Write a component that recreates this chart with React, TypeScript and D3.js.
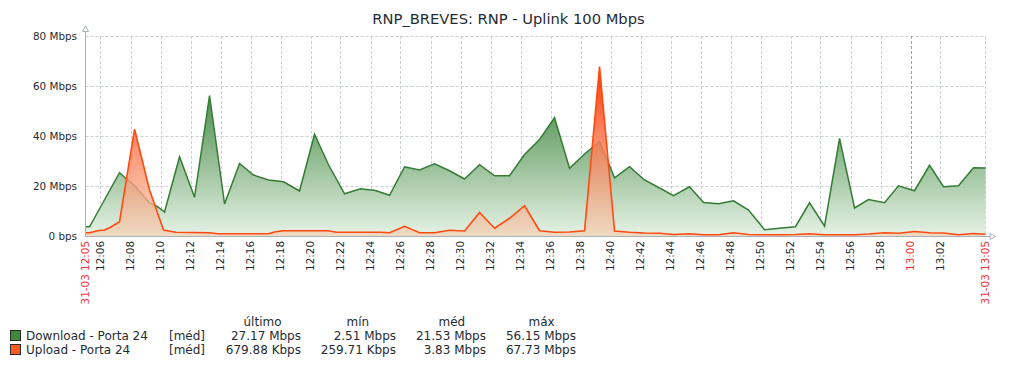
import React from "react";
import * as d3 from "d3";

// ---- data (minutes after 12:05, Mbps) ----
const downT = [0, 0.27, 1.27, 2.27, 2.73, 3.27, 4.27, 4.8, 5.27, 6.27, 7.27, 8.27, 9.27, 10.27, 11.2, 12.2, 13.2, 14.27, 15.27, 16.2, 17.27, 18.33, 19.33, 20.27, 21.27, 22.27, 23.27, 24.27, 25.27, 26.27, 27.27, 28.27, 29.27, 30.27, 31.27, 32.27, 33.27, 34.27, 35.27, 36.27, 37.27, 38.27, 39.2, 40.27, 41.2, 42.2, 43.2, 44.2, 45.27, 46.27, 47.33, 48.27, 49.27, 50.27, 51.27, 52.2, 53.27, 54.2, 55.27, 56.27, 57.2, 58.2, 59.2, 60];
const downV = [3.7, 3.7, 14.5, 25.3, 22.8, 20.2, 13.2, 11.7, 9.6, 31.7, 15.5, 56.15, 12.8, 29, 24.4, 22.4, 21.7, 18, 40.7, 28.5, 16.9, 18.9, 18.2, 16.3, 27.7, 26.4, 28.9, 26.1, 22.8, 28.5, 24.1, 24.1, 32.6, 38.6, 47.3, 27.1, 32.8, 37.8, 23.3, 27.7, 22.4, 19.2, 16.1, 19.7, 13.4, 12.9, 14.1, 10.4, 2.51, 3.1, 3.7, 13.3, 3.9, 39, 11.2, 14.6, 13.3, 20.1, 18.1, 28.3, 19.7, 20.1, 27.3, 27.17];

const upT = [0, 0.27, 0.8, 1.27, 1.67, 2.27, 3.27, 4.27, 4.8, 5.2, 6, 8.27, 8.8, 12.2, 12.67, 13.2, 15.27, 16.2, 16.73, 19.67, 20.27, 21.27, 22.27, 23.27, 24.27, 25.27, 26.27, 27.27, 28.27, 29.27, 30.27, 31.27, 32.27, 33.27, 34.27, 35.27, 36.27, 37.27, 38.27, 39.2, 40.27, 41.2, 42.2, 43.2, 44.2, 45.27, 46.27, 47.33, 48.27, 49.27, 50.27, 51.27, 52.2, 53.27, 54.2, 55.27, 56.27, 57.2, 58.2, 59.2, 60];
const upV = [1.3, 1.3, 2.1, 2.4, 3.5, 5.7, 42.7, 18.4, 9.3, 2.4, 1.5, 1.3, 0.9, 0.9, 1.7, 2.1, 2.1, 2.1, 1.5, 1.5, 1.3, 3.9, 1.3, 1.3, 2.3, 2.0, 9.4, 3.1, 7.1, 12.1, 2.1, 1.5, 1.6, 2.1, 67.73, 2.0, 1.5, 1.2, 1.1, 0.6, 0.9, 0.5, 0.5, 1.3, 0.6, 0.5, 0.5, 0.6, 0.9, 0.5, 0.5, 0.5, 0.8, 1.3, 1.1, 1.8, 1.3, 1.2, 0.5, 1.0, 0.68];

const yTicks = [0, 20, 40, 60, 80];
const yTickLabels = ["0 bps", "20 Mbps", "40 Mbps", "60 Mbps", "80 Mbps"];
const xTickLabels = ["12:06", "12:08", "12:10", "12:12", "12:14", "12:16", "12:18", "12:20", "12:22", "12:24", "12:26", "12:28", "12:30", "12:32", "12:34", "12:36", "12:38", "12:40", "12:42", "12:44", "12:46", "12:48", "12:50", "12:52", "12:54", "12:56", "12:58", "13:00", "13:02"];
const redTickLabels = ["13:00"];
const startLabel = "31-03 12:05";
const endLabel = "31-03 13:05";

const legendHeaders = ["último", "mín", "méd", "máx"];
const seriesNames = ["Download - Porta 24", "Upload - Porta 24"];
const downStats = ["27.17 Mbps", "2.51 Mbps", "21.53 Mbps", "56.15 Mbps"];
const upStats = ["679.88 Kbps", "259.71 Kbps", "3.83 Mbps", "67.73 Mbps"];

const title = "RNP_BREVES: RNP - Uplink 100 Mbps";

const FONT = "'DejaVu Sans', sans-serif";
const TEXT = "#1f2c33";

function toMin(s: string) {
  const [h, m] = s.split(":").map(Number);
  return (h - 12) * 60 + m - 5;
}

export default function App() {
  const W = 1016, H = 368;
  const x = d3.scaleLinear().domain([0, 60]).range([85.5, 985.5]);
  const y = d3.scaleLinear().domain([0, 80]).range([236, 36]);

  const down = downT.map((t, i) => [t, downV[i]] as [number, number]);
  const up = upT.map((t, i) => [t, upV[i]] as [number, number]);

  const area = d3.area<[number, number]>().x(d => x(d[0])).y0(y(0)).y1(d => y(d[1]));
  const line = d3.line<[number, number]>().x(d => x(d[0])).y(d => y(d[1]));

  const gridColor = "#c8d0d4";
  const axisColor = "#a9b2b7";
  const valueEnds = [301, 396, 486, 576];
  const headerStarts = [243.5, 346.5, 438.5, 528.5];

  return (
    <svg width={W} height={H} style={{ position: "absolute", left: 0, top: 0, background: "#fff" }} fontFamily={FONT}>
      <defs>
        <linearGradient id="gDown" gradientUnits="userSpaceOnUse" x1="0" y1={y(80)} x2="0" y2={y(0)}>
          <stop offset="0" stopColor="#2f752f" />
          <stop offset="0.3" stopColor="#4e8f4e" />
          <stop offset="1" stopColor="#e6f2e6" />
        </linearGradient>
        <linearGradient id="gUp" gradientUnits="userSpaceOnUse" x1="0" y1={y(68)} x2="0" y2={y(0)}>
          <stop offset="0" stopColor="#ff3300" stopOpacity="1" />
          <stop offset="0.4" stopColor="#ff7048" stopOpacity="0.85" />
          <stop offset="1" stopColor="#f2d0b4" stopOpacity="0.72" />
        </linearGradient>
      </defs>

      <text x={508.5} y={24} textAnchor="middle" fontSize={14.7} fill={TEXT}>{title}</text>

      {/* grid */}
      {yTicks.slice(1).map(v => (
        <line key={"h" + v} x1={85.5} x2={985.5} y1={y(v) + 0.5} y2={y(v) + 0.5} stroke={gridColor} strokeDasharray="3 2" />
      ))}
      {xTickLabels.map(l => (
        <line key={"v" + l} x1={Math.round(x(toMin(l))) + 0.5} x2={Math.round(x(toMin(l))) + 0.5} y1={36} y2={236}
          stroke={redTickLabels.includes(l) ? "#9aa3a8" : gridColor} strokeDasharray="3 2" />
      ))}
      <line x1={985.5} x2={985.5} y1={36} y2={236} stroke={gridColor} strokeDasharray="3 2" />

      {/* series */}
      <path d={area(down) || ""} fill="url(#gDown)" />
      <path d={line(down) || ""} fill="none" stroke="#347c34" strokeWidth={1.5} />
      <path d={area(up) || ""} fill="url(#gUp)" />
      <path d={line(up) || ""} fill="none" stroke="#ff4a10" strokeWidth={1.6} />

      {/* axes */}
      <line x1={85.5} x2={85.5} y1={31.5} y2={236.5} stroke={axisColor} />
      <path d="M85.5,26 L82.5,31.5 L88.5,31.5 Z" fill="#fff" stroke={axisColor} />
      <line x1={85.5} x2={990} y1={236.5} y2={236.5} stroke={axisColor} />
      <path d="M995.5,236.5 L990,233.5 L990,239.5 Z" fill="#fff" stroke={axisColor} />

      {yTicks.map((v, i) => (
        <text key={"yl" + v} x={77} y={y(v)} dy="0.36em" textAnchor="end" fontSize={10.4} fill={TEXT}>{yTickLabels[i]}</text>
      ))}
      {xTickLabels.map(l => (
        <text key={"xl" + l} transform={`translate(${x(toMin(l))},241) rotate(-90)`} dy="0.36em" textAnchor="end"
          fontSize={10.4} fill={redTickLabels.includes(l) ? "#f03030" : TEXT}>{l}</text>
      ))}
      <text transform={`translate(${x(0)},241) rotate(-90)`} dy="0.36em" textAnchor="end" fontSize={10.4} fill="#f03030">{startLabel}</text>
      <text transform={`translate(${x(60)},241) rotate(-90)`} dy="0.36em" textAnchor="end" fontSize={10.4} fill="#f03030">{endLabel}</text>

      {/* legend */}
      {legendHeaders.map((h, i) => (
        <text key={"lh" + h} x={headerStarts[i]} y={326} fontSize={12} fill={TEXT}>{h}</text>
      ))}
      {[0, 1].map(r => {
        const yy = r === 0 ? 339.5 : 353.5;
        const stats = r === 0 ? downStats : upStats;
        return (
          <g key={"row" + r}>
            <rect x={10.5} y={yy - 9} width={10} height={10} fill={r === 0 ? "#3d8a3d" : "#ff5a1f"} stroke="#2a2a2a" />
            <text x={26} y={yy} fontSize={12} fill={TEXT}>{seriesNames[r]}</text>
            <text x={169} y={yy} fontSize={12} fill={TEXT}>[méd]</text>
            {stats.map((s, i) => (
              <text key={"s" + i} x={valueEnds[i]} y={yy} textAnchor="end" fontSize={12} fill={TEXT}>{s}</text>
            ))}
          </g>
        );
      })}
    </svg>
  );
}
